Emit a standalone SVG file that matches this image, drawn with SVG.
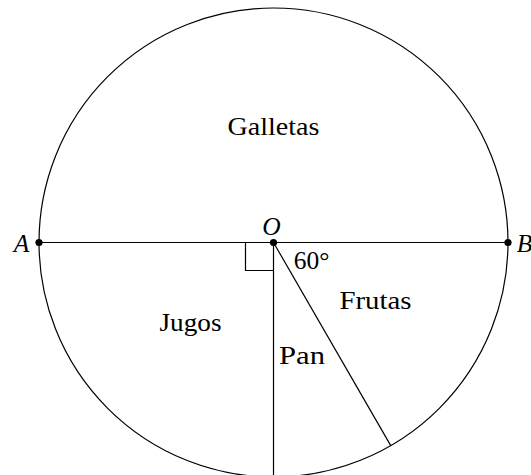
<svg xmlns="http://www.w3.org/2000/svg" width="531" height="475" viewBox="0 0 531 475">
<style>
.ln{fill:none;stroke:#000;stroke-width:1.2}
.t{font-size:25.5px;fill:#000;text-anchor:middle}
.i{font-style:italic}
.dot{fill:#000}
</style>
<rect width="531" height="475" fill="#fff"/>
<g id="circle"><circle class="ln" cx="273.5" cy="242.5" r="234.5"/></g>
<g id="connectors">
<line class="ln" x1="39" y1="242.5" x2="508" y2="242.5"/>
<line class="ln" x1="273.5" y1="242.5" x2="273.5" y2="477"/>
<line class="ln" x1="273.5" y1="242.5" x2="390.75" y2="445.6"/>
<polyline class="ln" points="245.5,242.5 245.5,270.5 273.5,270.5"/>
</g>
<g id="A"><circle class="dot" cx="39" cy="242.5" r="3.6"/><text class="t i" font-family="'Liberation Serif', serif" x="21.5" y="252">A</text></g>
<g id="B"><circle class="dot" cx="508" cy="242.5" r="3.6"/><text class="t i" font-family="'Liberation Serif', serif" x="524.5" y="252">B</text></g>
<g id="O"><circle class="dot" cx="273.5" cy="242.5" r="3.6"/><text class="t i" font-family="'Liberation Serif', serif" x="271.5" y="234.5">O</text></g>
<g id="angle"><text class="t" font-family="'Liberation Serif', serif" x="311.5" y="268.5">60°</text></g>
<g id="Galletas"><text class="t" font-family="'Liberation Serif', serif" x="273.5" y="135" textLength="92" lengthAdjust="spacingAndGlyphs">Galletas</text></g>
<g id="Jugos"><text class="t" font-family="'Liberation Serif', serif" x="190.5" y="331" textLength="62" lengthAdjust="spacingAndGlyphs">Jugos</text></g>
<g id="Pan"><text class="t" font-family="'Liberation Serif', serif" x="302" y="363.5" textLength="46" lengthAdjust="spacingAndGlyphs">Pan</text></g>
<g id="Frutas"><text class="t" font-family="'Liberation Serif', serif" x="375.5" y="309" textLength="72" lengthAdjust="spacingAndGlyphs">Frutas</text></g>
</svg>
